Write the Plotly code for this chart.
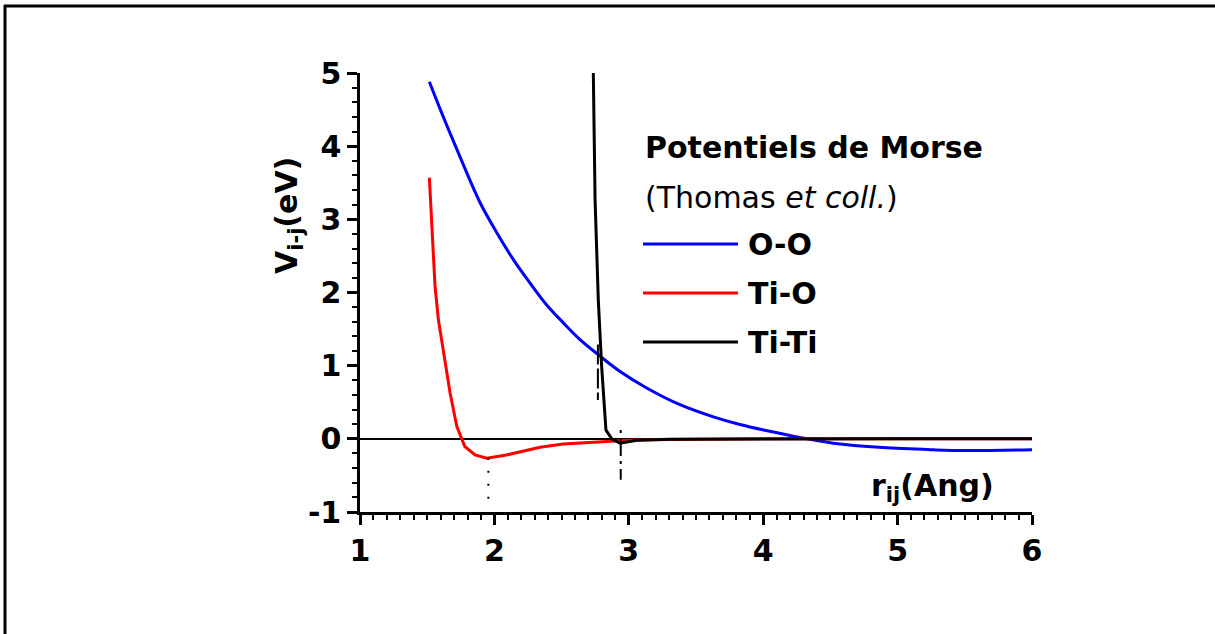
import plotly.graph_objects as go

# ---------------- data ----------------
r_OO = [1.516, 1.60, 1.72, 1.893, 2.017, 2.141, 2.265, 2.389, 2.513, 2.637, 2.773, 2.935, 3.133, 3.381, 3.629, 3.827, 4.03, 4.27, 4.52, 4.89, 5.27, 5.51, 6.0]
v_OO = [4.88, 4.49, 3.96, 3.23, 2.82, 2.45, 2.13, 1.83, 1.585, 1.356, 1.15, 0.92, 0.695, 0.466, 0.30, 0.195, 0.11, 0.02, -0.06, -0.12, -0.15, -0.16, -0.15]

r_TiO = [1.516, 1.533, 1.558, 1.583, 1.632, 1.67, 1.72, 1.78, 1.856, 1.943, 2.09, 2.34, 2.51, 2.76, 3.0, 3.3, 4.0, 5.0, 6.0]
v_TiO = [3.57, 2.91, 2.09, 1.63, 1.08, 0.63, 0.17, -0.105, -0.22, -0.265, -0.22, -0.115, -0.07, -0.04, -0.02, -0.008, 0.0, 0.0, 0.0]

r_TiTi = [2.736, 2.749, 2.773, 2.798, 2.83, 2.873, 2.935, 3.06, 3.3, 4.0, 5.0, 6.0]
v_TiTi = [5.0, 3.27, 1.90, 0.99, 0.12, 0.0, -0.06, -0.02, -0.005, 0.0, 0.0, 0.0]

# vertical marker segments (equilibrium distances)
mark_TiO_r = [1.955, 1.955]
mark_TiO_v = [-0.26, -0.84]
mark_OO_r = [2.77, 2.77]
mark_OO_v = [1.29, 0.53]
mark_TiTi_r = [2.94, 2.94]
mark_TiTi_v = [0.12, -0.56]

x_ticks = [1, 2, 3, 4, 5, 6]
y_ticks = [-1, 0, 1, 2, 3, 4, 5]
y_ticklabels = ["-1", "0", "1", "2", "3", "4", "5"]

series_names = ["O-O", "Ti-O", "Ti-Ti"]
series_colors = ["#0000ff", "#ff0000", "#000000"]

# ---------------- figure ----------------
W, H = 1215, 634
L, R, T, B = 360, 1032, 73, 512  # plot area in pixels
FONT = "DejaVu Sans, Liberation Sans, Arial, sans-serif"


def px_x(p):
    return (p - L) / (R - L)


def px_y(p):
    return (B - p) / (B - T)


fig = go.Figure()

curves = [(r_OO, v_OO, "spline"), (r_TiO, v_TiO, "linear"), (r_TiTi, v_TiTi, "linear")]
for (xs, ys, shp), name, col in zip(curves, series_names, series_colors):
    fig.add_trace(go.Scatter(x=xs, y=ys, mode="lines", name=name,
                             line=dict(color=col, width=3, shape=shp), showlegend=False))

fig.add_trace(go.Scatter(x=mark_TiO_r, y=mark_TiO_v, mode="lines", showlegend=False,
                         line=dict(color="black", width=2, dash="2px,11px")))
fig.add_trace(go.Scatter(x=mark_OO_r, y=mark_OO_v, mode="lines", showlegend=False,
                         line=dict(color="black", width=2, dash="20px,4px")))
fig.add_trace(go.Scatter(x=mark_TiTi_r, y=mark_TiTi_v, mode="lines", showlegend=False,
                         line=dict(color="black", width=2, dash="3px,5px,18px,5px")))

fig.update_layout(
    width=W, height=H,
    margin=dict(l=L, r=W - R, t=T, b=H - B, pad=0),
    paper_bgcolor="white", plot_bgcolor="white",
    font=dict(family=FONT, color="black", size=30),
)

fig.update_xaxes(
    range=[1, 6], tickvals=x_ticks, ticks="outside", ticklen=10, tickwidth=2.5,
    tickcolor="black", showline=True, linecolor="black", linewidth=2.5,
    showgrid=False, zeroline=False,
    tickfont=dict(family=FONT, size=30, weight="bold"),
    minor=dict(dtick=0.1, ticks="outside", ticklen=5, tickwidth=2, tickcolor="black"),
)
fig.update_yaxes(
    range=[-1, 5], tickvals=y_ticks, ticktext=y_ticklabels, ticks="outside", ticklen=10,
    tickwidth=2.5, tickcolor="black", showline=True, linecolor="black", linewidth=2.5,
    showgrid=False, zeroline=True, zerolinecolor="black", zerolinewidth=1.5,
    tickfont=dict(family=FONT, size=30, weight="bold"),
    minor=dict(dtick=0.2, ticks="outside", ticklen=5, tickwidth=2, tickcolor="black"),
)

anns = []
# axis titles
anns.append(dict(text="V<sub>i-j</sub>(eV)", x=px_x(288), y=px_y(216), xref="paper", yref="paper",
                 textangle=-90, showarrow=False, font=dict(size=30, weight="bold"),
                 xanchor="center", yanchor="middle"))
anns.append(dict(text="r<sub>ij</sub>(Ang)", x=px_x(869), y=px_y(487), xref="paper", yref="paper",
                 showarrow=False, font=dict(size=30, weight="bold"),
                 xanchor="left", yanchor="middle"))
# legend block
anns.append(dict(text="Potentiels de Morse", x=px_x(643), y=px_y(147), xref="paper", yref="paper",
                 showarrow=False, font=dict(size=30, weight="bold"), xanchor="left", yanchor="middle"))
anns.append(dict(text="(Thomas <i>et coll.</i>)", x=px_x(643), y=px_y(197), xref="paper", yref="paper",
                 showarrow=False, font=dict(size=30), xanchor="left", yanchor="middle"))
shapes = []
for i, (name, col) in enumerate(zip(series_names, series_colors)):
    yy = 244 + i * 49
    anns.append(dict(text=name, x=px_x(746), y=px_y(yy), xref="paper", yref="paper",
                     showarrow=False, font=dict(size=30, weight="bold"), xanchor="left", yanchor="middle"))
    shapes.append(dict(type="line", xref="paper", yref="paper", x0=px_x(643), x1=px_x(738),
                       y0=px_y(yy), y1=px_y(yy), line=dict(color=col, width=3)))

# frame border (top and left edges)
shapes.append(dict(type="line", xref="paper", yref="paper", x0=px_x(4), x1=px_x(1216),
                   y0=px_y(6), y1=px_y(6), line=dict(color="black", width=3)))
shapes.append(dict(type="line", xref="paper", yref="paper", x0=px_x(5), x1=px_x(5),
                   y0=px_y(5), y1=px_y(640), line=dict(color="black", width=3)))

fig.update_layout(annotations=anns, shapes=shapes)

fig.write_html("out.html")
